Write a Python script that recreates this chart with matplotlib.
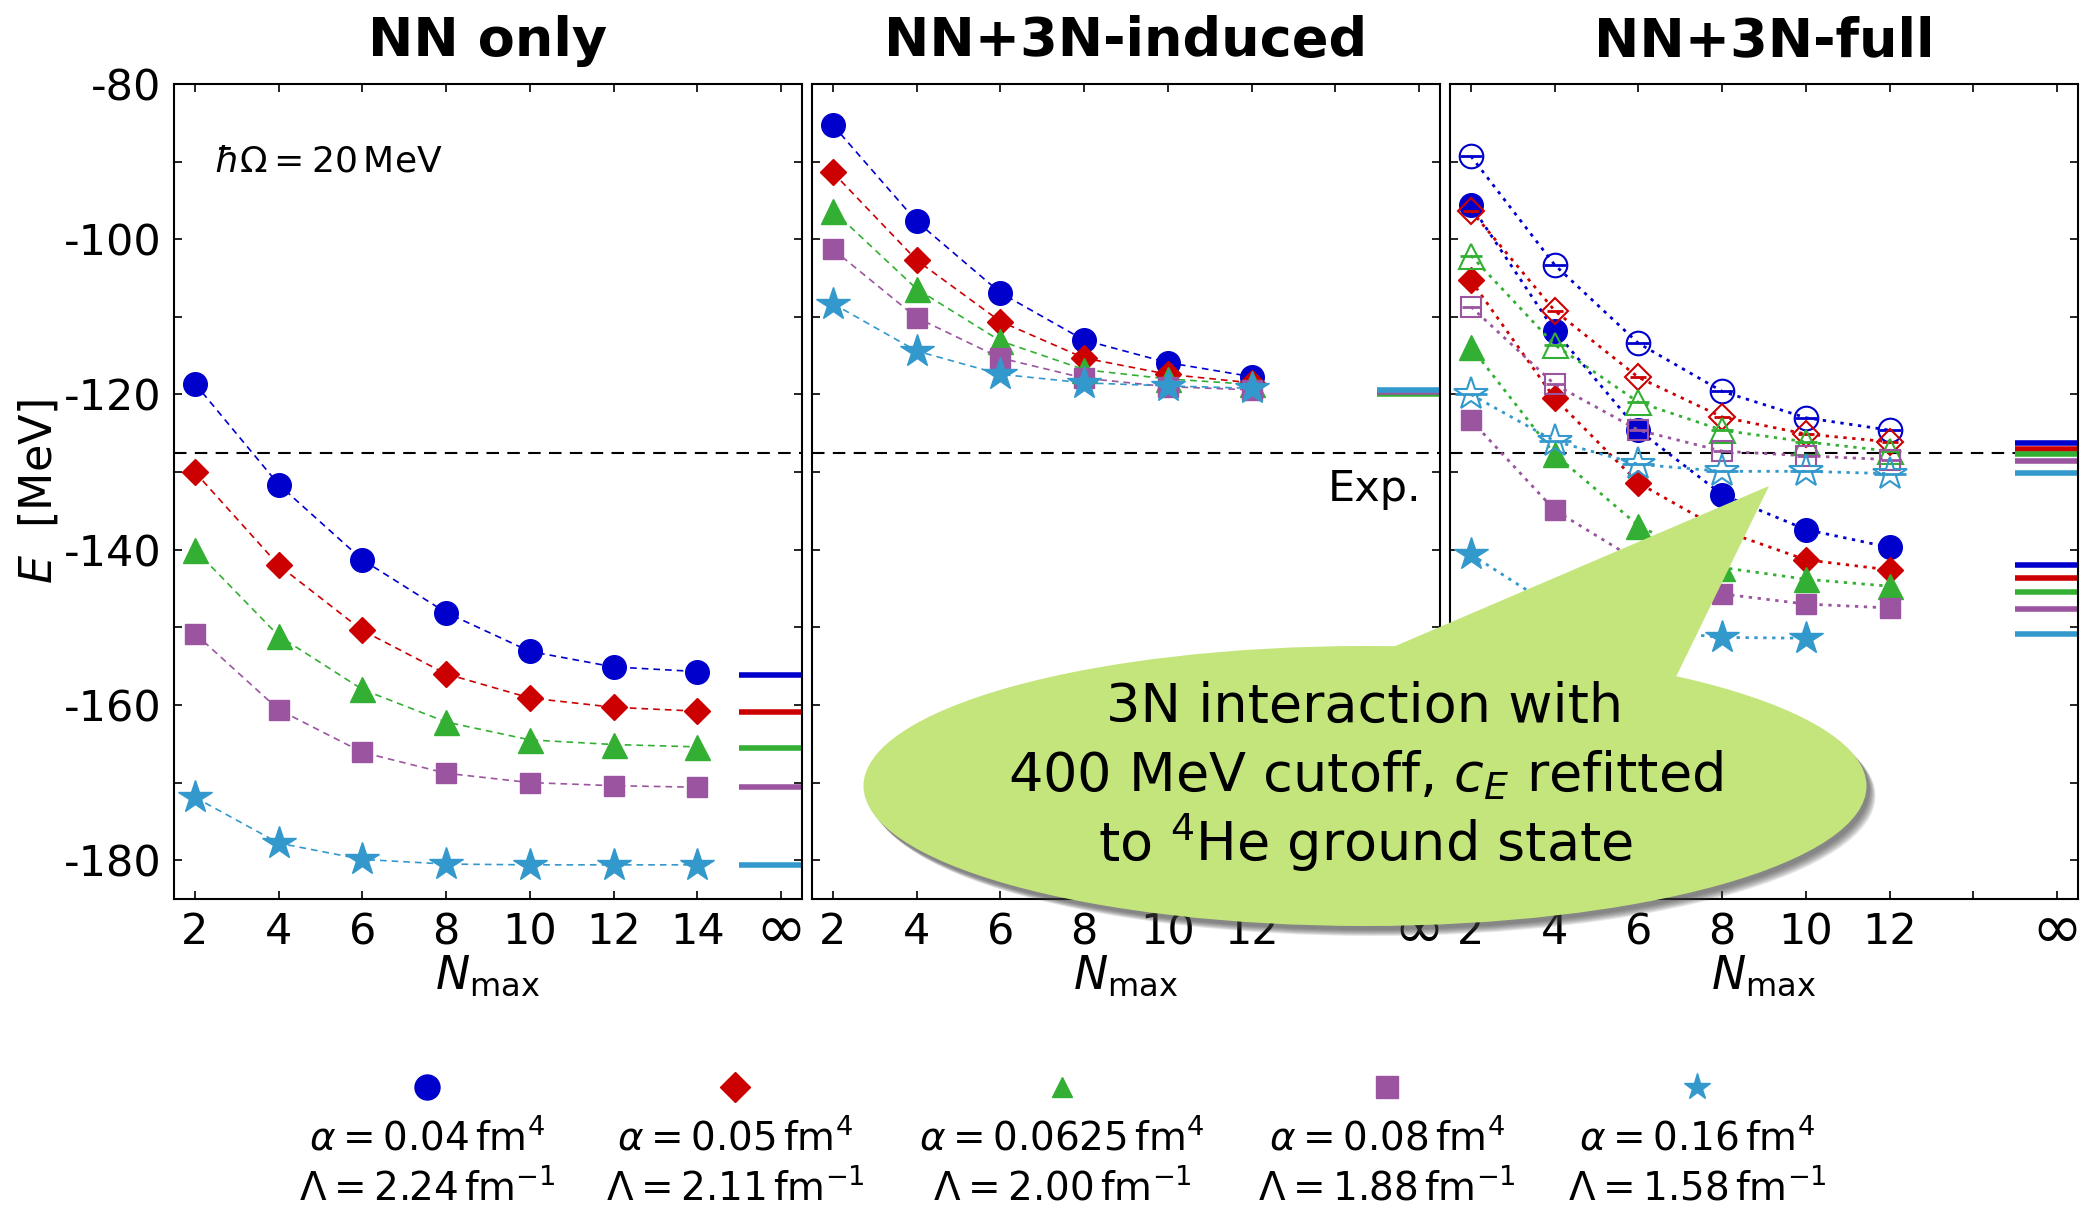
import matplotlib.pyplot as plt
from matplotlib.patches import Ellipse, Polygon

plt.rcParams['font.family'] = 'DejaVu Sans'
plt.rcParams['mathtext.fontset'] = 'dejavusans'
plt.rcParams['axes.unicode_minus'] = False

# one style per SRG flow parameter
colors = ['#0000cc', '#cc0000', '#33b033', '#9b55a0', '#3399cc']
markers = ['o', 'D', '^', 's', '*']
msizes = [17, 13, 18, 14, 25]
srg_alpha = ['0.04', '0.05', '0.0625', '0.08', '0.16']
srg_lambda = ['2.24', '2.11', '2.00', '1.88', '1.58']

titles = ['NN only', 'NN+3N-induced', 'NN+3N-full']

nmax_nn = [2, 4, 6, 8, 10, 12, 14]
nmax_3n = [2, 4, 6, 8, 10, 12]
e_exp = -127.6

# ground-state energies [MeV]
e_nn = [
    [-118.6, -131.6, -141.3, -148.1, -153.1, -155.1, -155.7],
    [-130.0, -142.0, -150.4, -156.0, -159.1, -160.3, -160.8],
    [-140.0, -151.1, -158.0, -162.2, -164.5, -165.1, -165.4],
    [-150.8, -160.6, -166.1, -168.8, -170.0, -170.4, -170.6],
    [-171.9, -177.8, -179.9, -180.5, -180.6, -180.6, -180.6],
]
e_nn_inf = [-156.2, -160.9, -165.6, -170.6, -180.6]

e_ind = [
    [-85.3, -97.7, -106.9, -113.0, -115.9, -117.7],
    [-91.4, -102.7, -110.6, -115.3, -117.4, -118.5],
    [-96.3, -106.4, -113.1, -116.8, -118.0, -118.7],
    [-101.3, -110.1, -115.3, -117.9, -119.0, -119.4],
    [-108.3, -114.4, -117.4, -118.5, -118.9, -119.2],
]
e_ind_inf = [-119.5, -119.6, -119.9, -119.7, -119.4]

e_full = [
    [-95.6, -111.8, -124.6, -132.9, -137.4, -139.7],
    [-105.3, -120.5, -131.4, -137.5, -141.3, -142.6],
    [-113.9, -127.7, -136.9, -142.3, -143.8, -144.7],
    [-123.3, -134.9, -141.5, -145.7, -147.0, -147.5],
    [-140.6, -147.5, -150.3, -151.3, -151.4],
]
e_full_inf = [-142.0, -143.6, -145.5, -147.7, -150.9]

e_full_open = [
    [-89.3, -103.3, -113.4, -119.6, -123.0, -124.6],
    [-96.3, -109.2, -117.8, -122.9, -125.1, -126.1],
    [-102.1, -113.6, -121.0, -124.6, -126.1, -127.3],
    [-108.7, -118.7, -124.6, -127.3, -127.9, -128.4],
    [-120.0, -126.0, -129.0, -129.9, -129.9, -130.2],
]
e_full_open_inf = [-126.2, -127.0, -127.7, -128.6, -130.1]

W, H = 2098, 1209
fig = plt.figure(figsize=(W / 100, H / 100), dpi=100)

axes = []
for i, x0 in enumerate([174, 812, 1450]):
    ax = fig.add_axes([x0 / W, 1 - 899 / H, 628 / W, 815 / H])
    ax.set_xlim(1.5, 16.5)
    ax.set_ylim(-185, -80)
    ax.set_xticks(range(2, 17, 2))
    if i == 0:
        ax.set_xticklabels(['2', '4', '6', '8', '10', '12', '14', ''])
    else:
        ax.set_xticklabels(['2', '4', '6', '8', '10', '12', '', ''])
    # the infinity label is larger than the digits, centred on them
    ax.annotate('∞', xy=(16, 0), xycoords=('data', 'axes fraction'),
                xytext=(0, -36), textcoords='offset points',
                ha='center', va='baseline', fontsize=44)
    ax.set_yticks(range(-180, -79, 20))
    ax.set_yticks(range(-170, -80, 20), minor=True)
    ax.tick_params(which='both', direction='in', top=True, right=True,
                   length=6, width=1.2, labelsize=31, pad=9)
    if i > 0:
        ax.tick_params(labelleft=False)
    for sp in ax.spines.values():
        sp.set_linewidth(1.5)
    ax.axhline(e_exp, color='k', lw=1.5, dashes=(6, 4))
    ax.set_xlabel(r'$N_{\mathrm{max}}$', fontsize=33, labelpad=0)
    ax.set_title(titles[i], fontsize=39, fontweight='bold', pad=20)
    axes.append(ax)

ax1, ax2, ax3 = axes
ax1.set_ylabel(r'$E$  [MeV]', fontsize=32, labelpad=2)

for k in range(5):
    st = dict(color=colors[k], marker=markers[k], ms=msizes[k], mec=colors[k])
    ax1.plot(nmax_nn, e_nn[k], ls=(0, (4, 3)), lw=1.2, **st)
    ax1.hlines(e_nn_inf[k], 15, 16.5, color=colors[k], lw=4)

    ax2.plot(nmax_3n, e_ind[k], ls=(0, (4, 3)), lw=1.2, **st)
    ax2.hlines(e_ind_inf[k], 15, 16.5, color=colors[k], lw=4)

    ax3.plot(nmax_3n[:len(e_full[k])], e_full[k], ls=(0, (1.2, 2)), lw=2, **st)
    ax3.hlines(e_full_inf[k], 15, 16.5, color=colors[k], lw=4)

for k in range(5):
    ax3.plot(nmax_3n, e_full_open[k], color=colors[k], marker=markers[k],
             ms=msizes[k], mfc='none', mec=colors[k], mew=1.5,
             ls=(0, (1.2, 2)), lw=2)
    ax3.plot(nmax_3n, e_full_open[k], ls='none', color=colors[k],
             marker='_', ms=msizes[k] * 0.9, mew=2)
    ax3.hlines(e_full_open_inf[k], 15, 16.5, color=colors[k], lw=4)

ax1.text(2.45, -90, r'$\hbar\Omega = 20\,\mathrm{MeV}$', fontsize=26, va='center')
ax2.text(16.05, -132.2, 'Exp.', fontsize=31, ha='right', va='center')

# legend row below the panels
lax = fig.add_axes([0, 0, 1, 1], zorder=-1)
lax.set_xlim(0, W)
lax.set_ylim(H, 0)
lax.axis('off')
leg_x = [427, 735, 1062, 1387, 1697]
leg_ms = [18, 15, 15, 16, 20]
for k in range(5):
    lax.plot(leg_x[k], 1087, ls='none', marker=markers[k], ms=leg_ms[k],
             color=colors[k], mec=colors[k])
    lax.text(leg_x[k], 1138, r'$\alpha = %s\,\mathrm{fm}^{4}$' % srg_alpha[k],
             fontsize=28, ha='center', va='center')
    lax.text(leg_x[k], 1188, r'$\Lambda = %s\,\mathrm{fm}^{-1}$' % srg_lambda[k],
             fontsize=28, ha='center', va='center')

# speech bubble with soft shadow
cx, cy, bw, bh = 1365, 786, 1003, 280
for i in range(7):
    sh = Ellipse(((cx + 3 + i) / W, 1 - (cy + 4 + i) / H), bw / W, bh / H,
                 transform=fig.transFigure, fc='0.25', ec='none',
                 alpha=0.13, zorder=4)
    fig.add_artist(sh)
bubble = Ellipse((cx / W, 1 - cy / H), bw / W, bh / H, transform=fig.transFigure,
                 fc='#c3e57b', ec='none', zorder=5)
fig.add_artist(bubble)
tip = Polygon([[1330 / W, 1 - 674 / H], [1769 / W, 1 - 486 / H], [1655 / W, 1 - 720 / H]],
              closed=True, transform=fig.transFigure, fc='#c3e57b', ec='none', zorder=5)
fig.add_artist(tip)

bubble_lines = ['3N interaction with',
                r'400 MeV cutoff, $c_E$ refitted',
                r'to $^4$He ground state']
for j, line in enumerate(bubble_lines):
    fig.text(cx / W, 1 - (707 + 68 * j) / H, line, fontsize=39,
             ha='center', va='center', zorder=6)

fig.savefig('out.png', dpi=100)
